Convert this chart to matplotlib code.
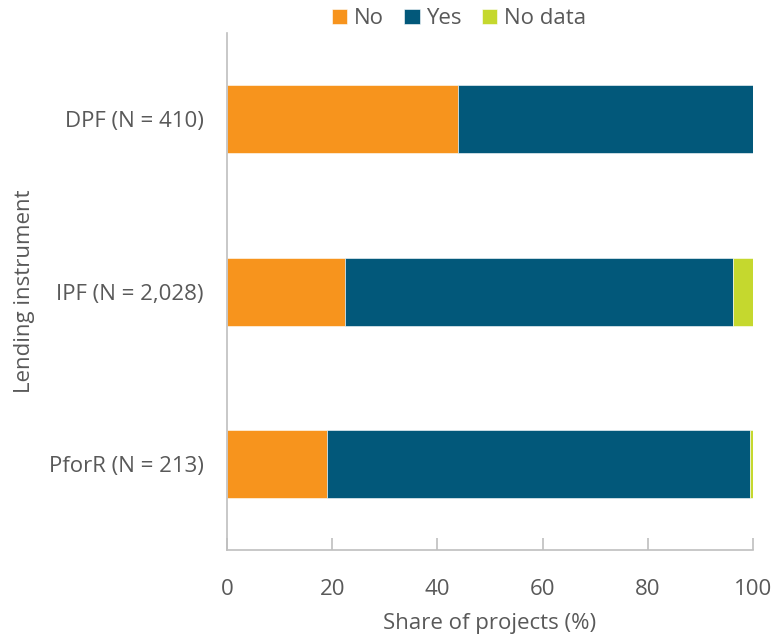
import matplotlib
matplotlib.use("Agg")
import matplotlib.pyplot as plt
import numpy as np

categories = ["DPF (N = 410)", "IPF (N = 2,028)", "PforR (N = 213)"]
series_names = ["No", "Yes", "No data"]
no_vals = [44.0, 22.5, 19.1]
yes_vals = [56.0, 73.8, 80.4]
nodata_vals = [0.0, 3.7, 0.5]
colors = ["#F7941D", "#02587A", "#C5D82E"]
xticks = [0, 20, 40, 60, 80, 100]

plt.rcParams['font.family'] = ['Open Sans', 'DejaVu Sans']
text_color = "#595959"
fs = 16

fig = plt.figure(figsize=(7.78, 6.43), dpi=100)
ax = fig.add_axes([0.2918, 0.1446, 0.676, 0.804])

y = np.arange(len(categories))
left = np.zeros(len(categories))
for name, vals, c in zip(series_names, [no_vals, yes_vals, nodata_vals], colors):
    vals = np.array(vals)
    ax.barh(y, vals, left=left, height=0.395, color=c, label=name,
            edgecolor="white", linewidth=0.4)
    left += vals

ax.set_ylim(len(categories) - 0.5, -0.5)
ax.set_xlim(0, 100)
ax.set_xticks(xticks)
ax.set_xticklabels([str(t) for t in xticks])
ax.set_yticks(y)
ax.set_yticklabels(categories)

for s in ["top", "right"]:
    ax.spines[s].set_visible(False)
for s in ["left", "bottom"]:
    ax.spines[s].set_color("#BFBFBF")
    ax.spines[s].set_linewidth(1.2)

ax.tick_params(axis="x", direction="in", length=9, color="#BFBFBF", width=1.2,
               labelsize=fs, labelcolor=text_color, pad=21)
ax.tick_params(axis="y", length=0, labelsize=fs, labelcolor=text_color, pad=17)

ax.set_xlabel("Share of projects (%)", fontsize=fs, color=text_color, labelpad=9)
ax.set_ylabel("Lending instrument", fontsize=fs, color=text_color, labelpad=10)

leg = fig.legend(loc="upper center", bbox_to_anchor=(0.59, 1.018), ncol=3,
                 frameon=False, fontsize=fs, handlelength=0.7, handleheight=0.7,
                 handletextpad=0.3, columnspacing=0.9)
for t in leg.get_texts():
    t.set_color(text_color)

fig.savefig("out.png", dpi=100)
